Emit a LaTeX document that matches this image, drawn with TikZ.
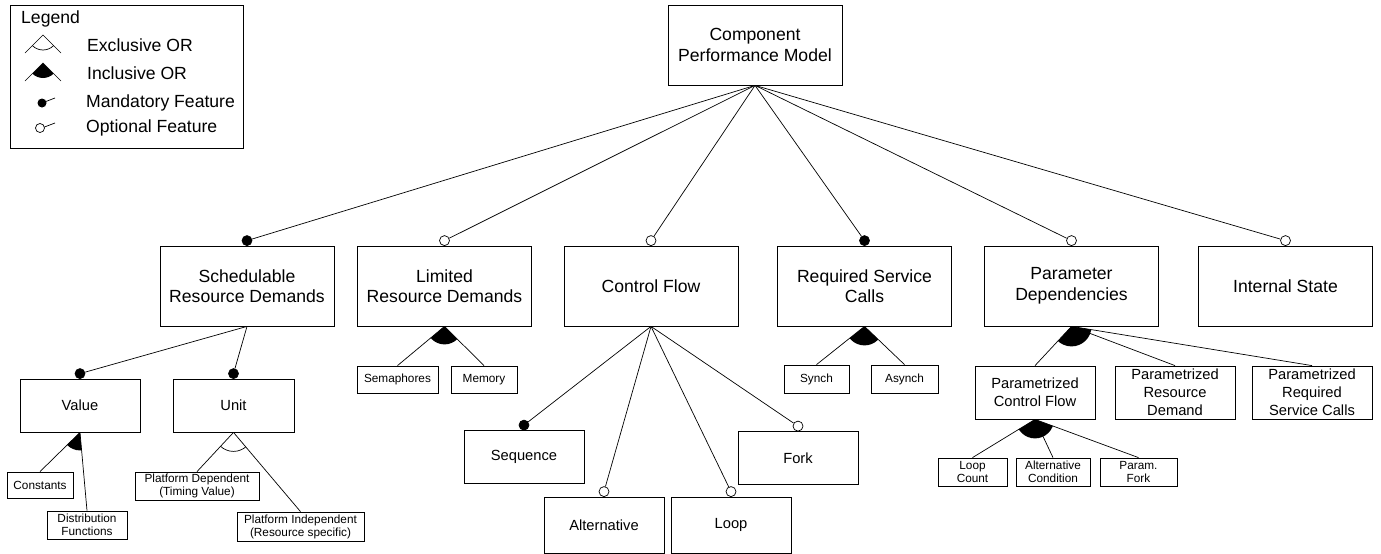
\documentclass[tikz,border=0pt]{standalone}
\usepackage{fontspec}
\setmainfont{Liberation Sans}
\tikzset{
  feat/.style={draw, line width=0.8pt, align=center, inner sep=1pt},
  big/.style={feat, minimum width=174pt, minimum height=80pt, font=\fontsize{17.6}{20.5}\selectfont},
  mid/.style={feat, minimum width=120pt, minimum height=53pt, font=\fontsize{14.7}{18}\selectfont},
  small/.style={feat, minimum height=28pt, font=\fontsize{11.8}{13}\selectfont},
  mand/.style={circle, draw, line width=0.7pt, fill=black, minimum size=10pt, inner sep=0pt},
  opt/.style={circle, draw, line width=0.7pt, fill=white, minimum size=10pt, inner sep=0pt},
  link/.style={line width=0.7pt},
  legtext/.style={anchor=west, inner sep=0pt, font=\fontsize{17.6}{20.5}\selectfont},
}
% filled sector (inclusive OR) between the first and last child link
\newcommand\inclor[4]{\begin{scope}\clip (#1) circle (#4);
  \fill (#1) -- (#2) -- (#3) -- cycle;\end{scope}}
% open arc (exclusive OR) between the first and last child link
\newcommand\exclor[4]{\begin{scope}\clip (#1) -- (#2) -- (#3) -- cycle;
  \draw[link] (#1) circle (#4);\end{scope}}
\begin{document}
\begin{tikzpicture}[x=1pt,y=-1pt]
\useasboundingbox (0,0) rectangle (1381,554);

% legend
\node[draw, line width=0.8pt, minimum width=233pt, minimum height=143pt, inner sep=0pt] (legend) at (126.5,76.5) {};
\node[legtext] (lg-title) at (21,19) {Legend};
\node[legtext] (lg-x) at (87,45) {Exclusive OR};
\node[legtext] (lg-i) at (87,73) {Inclusive OR};
\node[legtext] (lg-m) at (86,103) {Mandatory Feature};
\node[legtext] (lg-o) at (86,128) {Optional Feature};
\draw[link] (25,53) -- (43,35) -- (61,53);
\begin{scope}\clip (43,35) -- (13,65) -- (73,65) -- cycle;
  \draw[link] (43,35) circle (15pt);\end{scope}
\draw[link] (25,81) -- (43,63) -- (61,81);
\begin{scope}\clip (43,63) circle (15pt);
  \fill (43,63) -- (13,93) -- (73,93) -- cycle;\end{scope}
\draw[link] (42,103) -- (55,98);
\fill (42,103) circle (4.5pt);
\draw[link] (44.5,127) -- (55,123);
\draw[line width=0.7pt, fill=white] (40,128) circle (4.5pt);

% root
\node[big] (cpm) at (755,45) {Component\\Performance Model};

% first level
\node[big] (srd) at (247,286) {Schedulable\\Resource Demands};
\node[big] (lrd) at (444.5,286) {Limited\\Resource Demands};
\node[big] (cf) at (651,286) {Control Flow};
\node[big] (rsc) at (864.5,286) {Required Service\\Calls};
\node[big] (pd) at (1071.5,286) {Parameter\\Dependencies};
\node[big] (is) at (1285.5,286) {Internal State};

\node[mand] (srd-k) at ([yshift=5pt]srd.north) {};
\node[opt]  (lrd-k) at ([yshift=5pt]lrd.north) {};
\node[opt]  (cf-k)  at ([yshift=5pt]cf.north) {};
\node[mand] (rsc-k) at ([yshift=5pt]rsc.north) {};
\node[opt]  (pd-k)  at ([yshift=5pt]pd.north) {};
\node[opt]  (is-k)  at ([yshift=5pt]is.north) {};
\foreach \n in {srd,lrd,cf,rsc,pd,is}
  \draw[link] (cpm.south) -- (\n-k);

% schedulable resource demands
\node[mid] (val) at (80,405.5) {Value};
\node[mid, minimum width=121pt] (unit) at (233.5,405.5) {Unit};
\node[mand] (val-k) at ([yshift=5pt]val.north) {};
\node[mand] (unit-k) at ([yshift=5pt]unit.north) {};
\draw[link] (srd.south) -- (val-k);
\draw[link] (srd.south) -- (unit-k);

\node[small, minimum width=66pt, minimum height=26pt] (const) at (40,485) {Constants};
\node[small, minimum width=80pt] (distr) at (87,525) {Distribution\\Functions};
\draw[link] (val.south) -- (const.north);
\draw[link] (val.south) -- (distr.north);
\inclor{val.south}{const.north}{distr.north}{18pt}

\node[small, minimum width=124pt] (pdep) at (197,486) {Platform Dependent\\(Timing Value)};
\node[small, minimum width=127pt, minimum height=29pt] (pind) at (300.5,526.5) {Platform Independent\\(Resource specific)};
\draw[link] (unit.south) -- (pdep.north);
\draw[link] (unit.south) -- (pind.north);
\exclor{unit.south}{pdep.north}{pind.north}{19pt}

% limited resource demands
\node[small, minimum width=81pt, minimum height=27pt] (sem) at (397.5,379.5) {Semaphores};
\node[small, minimum width=66pt, minimum height=27pt] (mem) at (484,379.5) {Memory};
\draw[link] (lrd.south) -- (sem.north);
\draw[link] (lrd.south) -- (mem.north);
\inclor{lrd.south}{sem.north}{mem.north}{18pt}

% control flow
\node[mid] (seq) at (524,457) {Sequence};
\node[mid] (fork) at (798,458) {Fork};
\node[mid, minimum height=56pt] (alt) at (604,525) {Alternative};
\node[mid, minimum height=56pt] (loop) at (731,525) {Loop};
\node[mand] (seq-k) at ([yshift=5pt]seq.north) {};
\node[opt] (fork-k) at ([yshift=5pt]fork.north) {};
\node[opt] (alt-k) at ([yshift=5pt]alt.north) {};
\node[opt] (loop-k) at ([yshift=5pt]loop.north) {};
\foreach \n in {seq,alt,loop,fork}
  \draw[link] (cf.south) -- (\n-k);

% required service calls
\node[small, minimum width=65pt] (syn) at (816.5,379) {Synch};
\node[small, minimum width=67pt] (asyn) at (904.5,379) {Asynch};
\draw[link] (rsc.south) -- (syn.north);
\draw[link] (rsc.south) -- (asyn.north);
\inclor{rsc.south}{syn.north}{asyn.north}{19pt}

% parameter dependencies
\node[mid] (pcf) at (1035,392.5) {Parametrized\\Control Flow};
\node[mid] (prd) at (1175,392.5) {Parametrized\\Resource\\Demand};
\node[mid] (prsc) at (1312,392.5) {Parametrized\\Required\\Service Calls};
\foreach \n in {pcf,prd,prsc}
  \draw[link] (pd.south) -- (\n.north);
\inclor{pd.south}{pcf.north}{prsc.north}{20pt}

\node[small, minimum width=69pt] (lc) at (972.5,472) {Loop\\Count};
\node[small, minimum width=74pt] (ac) at (1053,472) {Alternative\\Condition};
\node[small, minimum width=77pt] (pf) at (1138.5,472) {Param.\\Fork};
\foreach \n in {lc,ac,pf}
  \draw[link] (pcf.south) -- (\n.north);
\inclor{pcf.south}{lc.north}{pf.north}{19pt}
\end{tikzpicture}
\end{document}
